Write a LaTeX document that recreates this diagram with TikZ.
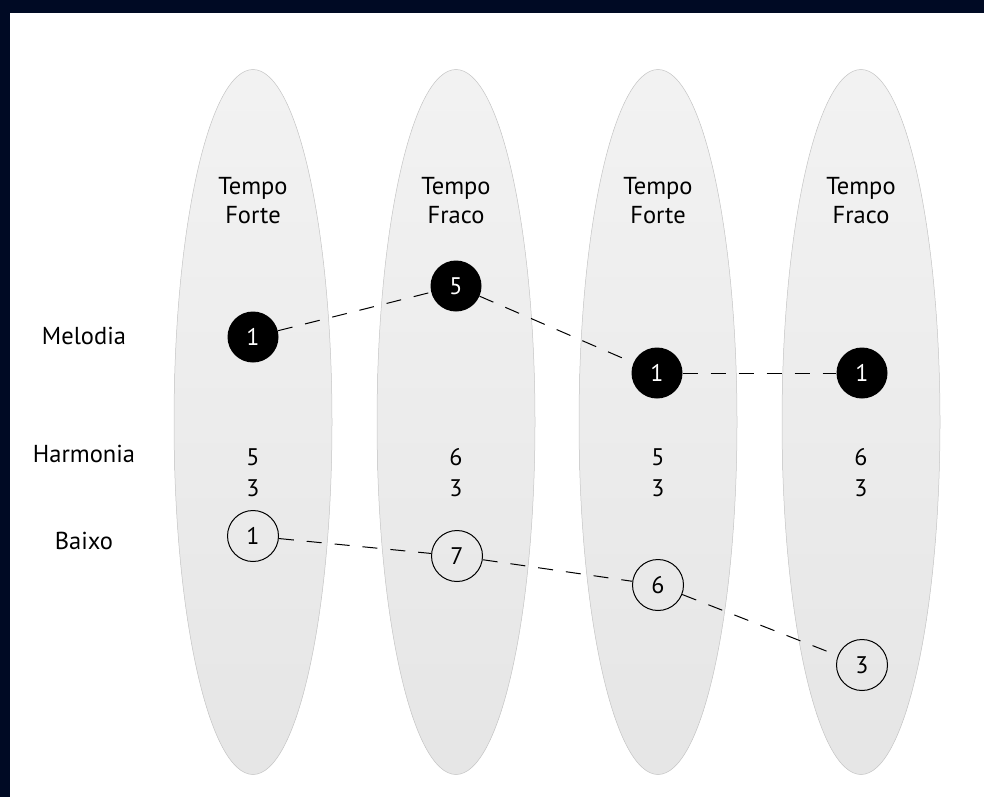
\documentclass[tikz,border=0pt]{standalone}
\usepackage{fontspec}
\setmainfont{PT Sans}
\usetikzlibrary{shapes.geometric}
\definecolor{frame}{HTML}{000A24}
\definecolor{beatedge}{HTML}{C4C4C4}
\tikzset{
  beat/.style={ellipse, inner sep=0pt, minimum width=158pt, minimum height=705pt,
    draw=beatedge, line width=0.5pt, top color=black!5, bottom color=black!10},
  head/.style={align=center, font=\fontsize{24.5}{29}\selectfont},
  lbl/.style={font=\fontsize{24.5}{28}\selectfont},
  num/.style={font=\fontsize{24}{31}\selectfont, align=center},
  melnote/.style={circle, fill=black, minimum size=51pt, inner sep=0pt,
    text=white, font=\fontsize{24}{28}\selectfont},
  bassnote/.style={circle, draw=black, line width=1pt, minimum size=51pt, inner sep=0pt,
    font=\fontsize{24}{28}\selectfont},
  link/.style={draw=black, line width=1pt, dash pattern=on 15pt off 13pt}
}
\begin{document}
\begin{tikzpicture}[x=1pt, y=-1pt]
  \useasboundingbox (0,0) rectangle (984,797);
  % frame strips along the top and left
  \fill[frame] (0,0) rectangle (984,13);
  \fill[frame] (0,0) rectangle (10,797);

  % the four beats
  \node[beat] (b1) at (253,422) {};
  \node[beat] (b2) at (456,422) {};
  \node[beat] (b3) at (658,422) {};
  \node[beat] (b4) at (861,422) {};

  \node[head] (h1) at (253,201) {Tempo\\Forte};
  \node[head] (h2) at (456,201) {Tempo\\Fraco};
  \node[head] (h3) at (658,201) {Tempo\\Forte};
  \node[head] (h4) at (861,201) {Tempo\\Fraco};

  % row labels
  \node[lbl] (lm) at (84,336) {Melodia};
  \node[lbl] (lh) at (84,454) {Harmonia};
  \node[lbl] (lb) at (84,541) {Baixo};

  % harmony figures
  \node[num] (f1) at (253,473) {5\\3};
  \node[num] (f2) at (456,473) {6\\3};
  \node[num] (f3) at (658,473) {5\\3};
  \node[num] (f4) at (861,473) {6\\3};

  % melody
  \node[melnote] (m1) at (253,337) {1};
  \node[melnote] (m2) at (456,286) {5};
  \node[melnote] (m3) at (657,373) {1};
  \node[melnote] (m4) at (862,373) {1};

  % bass
  \node[bassnote] (n1) at (253,536) {1};
  \node[bassnote] (n2) at (457,556) {7};
  \node[bassnote] (n3) at (658,585) {6};
  \node[bassnote] (n4) at (862,665) {3};

  \path[link] (m1) -- (m2);
  \path[link] (m2) -- (m3);
  \path[link] (m3) -- (m4);
  \path[link] (n1) -- (n2);
  \path[link] (n2) -- (n3);
  \path[link] (n3) -- (n4);
\end{tikzpicture}
\end{document}
